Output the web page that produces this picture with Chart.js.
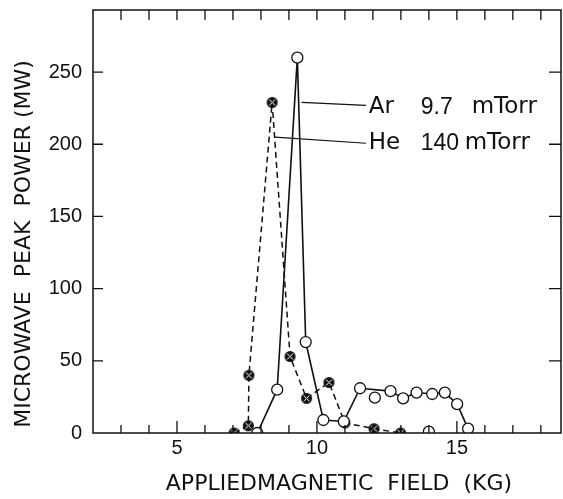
<!DOCTYPE html>
<html>
<head>
<meta charset="utf-8">
<script src="https://cdn.jsdelivr.net/npm/chart.js@4"></script>
<style>
    html, body { margin: 0; padding: 0; background: #fff; overflow: hidden; }
    canvas { display: block; }
</style>
</head>
<body>
<canvas id="fieldChart" width="563" height="499"></canvas>
<script>
// values
const arField = [7.87, 8.58, 9.3, 9.6, 10.23, 10.96, 11.54, 12.63, 13.08, 13.56, 14.12, 14.57, 15.01, 15.4];
const arPower = [0, 30, 260, 63, 9, 8, 31, 29, 24, 28, 27, 28, 20, 3];
const arLooseField = [12.07, 14.0];
const arLoosePower = [24.5, 1];
const heField = [7.04, 7.55, 7.57, 8.4, 9.04, 9.63, 10.43, 11.0, 12.04, 12.99];
const hePower = [0, 5, 40, 229, 53, 24, 35, 7, 3, 0];
const xLabelValues = [5, 10, 15];
const yLabelValues = [0, 50, 100, 150, 200, 250];
const arNote = ['Ar', '9.7', 'mTorr'];
const heNote = ['He', '140', 'mTorr'];

const FONT = "'DejaVu Sans', sans-serif";
const NUM_FONT = "'Liberation Sans', Arial, sans-serif";
const INK = '#111';

function toPoints(xs, ys) {
    return xs.map((x, i) => ({ x: x, y: ys[i] }));
}

// filled He marker with light cross
function heMarker() {
    const c = document.createElement('canvas');
    c.width = 13; c.height = 13;
    const g = c.getContext('2d');
    g.fillStyle = INK;
    g.beginPath();
    g.arc(6.5, 6.5, 5.5, 0, Math.PI * 2);
    g.fill();
    g.strokeStyle = '#fff';
    g.lineWidth = 1;
    g.beginPath();
    g.moveTo(3.5, 3.5); g.lineTo(9.5, 9.5);
    g.moveTo(9.5, 3.5); g.lineTo(3.5, 9.5);
    g.stroke();
    return c;
}

const frameTicks = {
    id: 'frameTicks',
    afterDraw(chart) {
        const { ctx, chartArea: a, scales } = chart;
        ctx.save();
        ctx.strokeStyle = INK;
        ctx.lineWidth = 1.5;
        ctx.strokeRect(a.left, a.top, a.right - a.left, a.bottom - a.top);
        ctx.lineWidth = 1.3;
        ctx.beginPath();
        for (let v = 3; v <= 18; v++) {
            const px = scales.x.getPixelForValue(v);
            const len = xLabelValues.includes(v) ? 12 : 8;
            ctx.moveTo(px, a.bottom); ctx.lineTo(px, a.bottom - len);
            ctx.moveTo(px, a.top); ctx.lineTo(px, a.top + 10);
        }
        yLabelValues.forEach(v => {
            if (v === 0) return;
            const py = scales.y.getPixelForValue(v);
            ctx.moveTo(a.left, py); ctx.lineTo(a.left + 10, py);
            ctx.moveTo(a.right, py); ctx.lineTo(a.right - 12, py);
        });
        ctx.stroke();

        // axis titles
        ctx.fillStyle = INK;
        ctx.font = '22px ' + FONT;
        ctx.textAlign = 'center';
        ctx.textBaseline = 'middle';
        ctx.fillText('APPLIEDMAGNETIC  FIELD  (KG)', 339, 484);
        ctx.translate(24, 244);
        ctx.rotate(-Math.PI / 2);
        ctx.fillText('MICROWAVE  PEAK  POWER (MW)', 0, 0);
        ctx.restore();
    }
};

const gasNotes = {
    id: 'gasNotes',
    afterDatasetsDraw(chart) {
        const { ctx, scales } = chart;
        const X = v => scales.x.getPixelForValue(v);
        const Y = v => scales.y.getPixelForValue(v);
        ctx.save();
        ctx.strokeStyle = INK;
        ctx.lineWidth = 1.2;
        ctx.beginPath();
        // Ar leader
        ctx.moveTo(X(9.45), Y(229)); ctx.lineTo(X(11.75), Y(227));
        // He leader
        ctx.moveTo(X(8.5), Y(205)); ctx.lineTo(X(11.75), Y(200.7));
        ctx.stroke();
        ctx.fillStyle = INK;
        ctx.textBaseline = 'middle';
        ctx.textAlign = 'left';
        const x0 = X(11.85);
        const arY = Y(226);
        const heY = Y(201);
        ctx.font = '23px ' + FONT;
        ctx.fillText(arNote[0], x0, arY);
        ctx.fillText(arNote[2], x0 + 103, arY);
        ctx.fillText(heNote[0], x0, heY);
        ctx.fillText(heNote[2], x0 + 96, heY);
        ctx.font = '23px ' + NUM_FONT;
        ctx.fillText(arNote[1], x0 + 52, arY + 1);
        ctx.fillText(heNote[1], x0 + 52, heY + 1);
        ctx.restore();
    }
};

new Chart(document.getElementById('fieldChart'), {
    type: 'scatter',
    data: {
        datasets: [
            {
                label: 'Ar',
                data: toPoints(arField, arPower),
                showLine: true,
                borderColor: INK,
                borderWidth: 1.6,
                pointStyle: 'circle',
                pointRadius: 5.5,
                pointBackgroundColor: '#fff',
                pointBorderColor: INK,
                pointBorderWidth: 1.3
            },
            {
                label: 'Ar (off line)',
                data: toPoints(arLooseField, arLoosePower),
                showLine: false,
                pointStyle: 'circle',
                pointRadius: 5.5,
                pointBackgroundColor: '#fff',
                pointBorderColor: INK,
                pointBorderWidth: 1.3
            },
            {
                label: 'He',
                data: toPoints(heField, hePower),
                showLine: true,
                borderColor: INK,
                borderWidth: 1.5,
                borderDash: [6, 4],
                pointStyle: heMarker(),
                pointRadius: 6
            }
        ]
    },
    options: {
        responsive: false,
        animation: false,
        layout: {
            autoPadding: false,
            padding: { top: 10, right: 2, left: 0, bottom: 0 }
        },
        scales: {
            x: {
                type: 'linear',
                min: 2,
                max: 18.72,
                afterFit(scale) {
                    scale.height = 66;
                    scale.paddingLeft = 0;
                    scale.paddingRight = 0;
                },
                grid: { display: false, drawTicks: false },
                border: { display: false },
                ticks: {
                    stepSize: 1,
                    includeBounds: false,
                    autoSkip: false,
                    maxRotation: 0,
                    padding: 3,
                    color: INK,
                    font: { family: NUM_FONT, size: 20 },
                    callback: v => xLabelValues.includes(v) ? String(v) : ''
                }
            },
            y: {
                min: 0,
                max: 293,
                afterFit(scale) {
                    scale.width = 93;
                    scale.paddingTop = 0;
                    scale.paddingBottom = 0;
                },
                grid: { display: false, drawTicks: false },
                border: { display: false },
                ticks: {
                    stepSize: 50,
                    includeBounds: false,
                    padding: 11,
                    color: INK,
                    font: { family: NUM_FONT, size: 20 },
                    callback: v => yLabelValues.includes(v) ? String(v) : ''
                }
            }
        },
        plugins: {
            legend: { display: false },
            tooltip: { enabled: false }
        }
    },
    plugins: [frameTicks, gasNotes]
});
</script>
</body>
</html>
